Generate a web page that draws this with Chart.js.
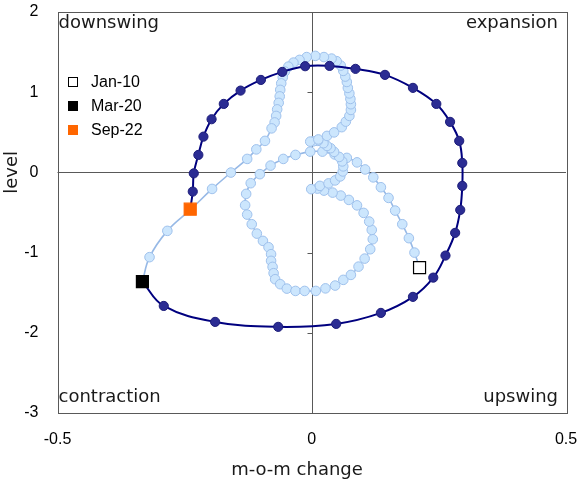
<!DOCTYPE html>
<html>
<head>
<meta charset="utf-8">
<script src="https://cdn.jsdelivr.net/npm/chart.js@4"></script>
<style>
  html, body { margin: 0; padding: 0; background: #fff; }
  #wrap { width: 581px; height: 486px; }
</style>
</head>
<body>
<div id="wrap"><canvas id="cycleChart" width="581" height="486"></canvas></div>
<script>
// Jan-10 .. Feb-20, monthly (x = m-o-m change, y = level)
const pastMom = [
  0.212, 0.202, 0.191, 0.178, 0.164, 0.151, 0.136, 0.121, 0.105, 0.089,
  0.069, 0.045, 0.021, -0.003, -0.032, -0.056, -0.081, -0.102, -0.120, -0.129,
  -0.131, -0.127, -0.118, -0.108, -0.096, -0.085, -0.080, -0.080, -0.077, -0.075,
  -0.072, -0.062, -0.049, -0.032, -0.014, 0.008, 0.027, 0.046, 0.062, 0.077,
  0.092, 0.104, 0.115, 0.120, 0.118, 0.113, 0.102, 0.089, 0.073, 0.057,
  0.041, 0.024, 0.011, -0.001, 0.016, 0.033, 0.046, 0.056, 0.061, 0.062,
  0.060, 0.054, 0.044, 0.037, 0.030, 0.023, 0.012, 0.003, -0.003, 0.013,
  0.030, 0.044, 0.059, 0.067, 0.074, 0.077, 0.077, 0.076, 0.074, 0.071,
  0.069, 0.066, 0.062, 0.057, 0.049, 0.039, 0.024, 0.007, -0.010, -0.024,
  -0.036, -0.046, -0.053, -0.057, -0.060, -0.062, -0.063, -0.065, -0.068, -0.070,
  -0.073, -0.079, -0.092, -0.109, -0.127, -0.159, -0.196, -0.239, -0.284, -0.319
];
const pastLevel = [
  -1.187, -1.000, -0.820, -0.646, -0.476, -0.318, -0.185, -0.062, 0.037, 0.125,
  0.181, 0.224, 0.259, 0.259, 0.218, 0.168, 0.085, -0.022, -0.135, -0.268,
  -0.409, -0.526, -0.646, -0.763, -0.854, -0.933, -1.020, -1.103, -1.178, -1.257,
  -1.332, -1.394, -1.449, -1.478, -1.478, -1.478, -1.446, -1.411, -1.340, -1.278,
  -1.175, -1.075, -0.958, -0.833, -0.717, -0.613, -0.505, -0.411, -0.343, -0.289,
  -0.252, -0.227, -0.202, -0.209, -0.168, -0.137, -0.100, -0.050, 0.012, 0.075,
  0.137, 0.193, 0.256, 0.302, 0.330, 0.364, 0.393, 0.387, 0.384, 0.411,
  0.455, 0.499, 0.564, 0.633, 0.704, 0.779, 0.850, 0.916, 0.985, 1.054,
  1.128, 1.195, 1.266, 1.332, 1.387, 1.419, 1.438, 1.453, 1.438, 1.403,
  1.369, 1.319, 1.257, 1.185, 1.110, 1.029, 0.948, 0.867, 0.786, 0.704,
  0.623, 0.549, 0.393, 0.287, 0.168, -0.002, -0.206, -0.468, -0.729, -1.057
];
// Mar-20 .. Sep-22
const recentMom = [
  -0.333, -0.291, -0.190, -0.066, 0.048, 0.136, 0.199, 0.239, 0.263, 0.282,
  0.292, 0.296, 0.296, 0.290, 0.272, 0.245, 0.199, 0.144, 0.086, 0.035,
  -0.013, -0.058, -0.100, -0.140, -0.173, -0.197, -0.213, -0.223, -0.232, -0.234,
  -0.239
];
const recentLevel = [
  -1.362, -1.665, -1.864, -1.926, -1.889, -1.752, -1.552, -1.312, -1.037, -0.754,
  -0.468, -0.168, 0.118, 0.393, 0.630, 0.854, 1.054, 1.216, 1.291, 1.328,
  1.324, 1.253, 1.153, 1.020, 0.854, 0.663, 0.446, 0.218, -0.012, -0.239,
  -0.459
];

const xTicks = [-0.5, 0, 0.5];
const yTicks = [2, 1, 0, -1, -2, -3];
const keyLabels = ['Jan-10', 'Mar-20', 'Sep-22'];
const keyFill = ['#ffffff', '#000000', '#ff6600'];
const keyLine = ['#000000', '#000000', '#ff6600'];
const quadrants = ['downswing', 'expansion', 'contraction', 'upswing'];

const toPoints = (xs, ys) => xs.map((v, i) => ({x: v, y: ys[i]}));

const pastPts = toPoints(pastMom, pastLevel);
const recentPts = toPoints(recentMom, recentLevel);
const keyPts = [pastPts[0], recentPts[0], recentPts[recentPts.length - 1]];

const gothic = '"DejaVu Sans", sans-serif';
const arial = '"Liberation Sans", Arial, sans-serif';

const cycleFrame = {
    id: 'cycleFrame',
    beforeDatasetsDraw(chart) {
        const {ctx, chartArea: a, scales: {x, y}} = chart;
        const r = v => Math.round(v) + 0.5;
        ctx.save();
        ctx.strokeStyle = '#595959';
        ctx.lineWidth = 1;
        ctx.strokeRect(r(a.left), r(a.top), Math.round(a.right - a.left), Math.round(a.bottom - a.top));
        const x0 = r(x.getPixelForValue(0));
        const y0 = r(y.getPixelForValue(0));
        ctx.beginPath();
        ctx.moveTo(x0, a.top); ctx.lineTo(x0, a.bottom);
        ctx.moveTo(a.left, y0); ctx.lineTo(a.right, y0);
        yTicks.forEach(v => {
            const py = r(y.getPixelForValue(v));
            ctx.moveTo(x0 - 5, py); ctx.lineTo(x0, py);
        });
        ctx.stroke();
        ctx.restore();
    },
    afterDraw(chart) {
        const {ctx, chartArea: a, scales: {x, y}} = chart;
        ctx.save();
        // quadrant names
        ctx.fillStyle = '#1a1a1a';
        ctx.font = '18px ' + gothic;
        ctx.textBaseline = 'middle';
        ctx.textAlign = 'left';
        ctx.fillText(quadrants[0], a.left + 1, a.top + 11);
        ctx.fillText(quadrants[2], a.left + 1, a.bottom - 16);
        ctx.textAlign = 'right';
        ctx.fillText(quadrants[1], a.right - 8, a.top + 11);
        ctx.fillText(quadrants[3], a.right - 8, a.bottom - 16);

        // axis titles
        ctx.textAlign = 'center';
        ctx.fillText('m-o-m change', 297, 470);
        ctx.save();
        ctx.translate(12, y.getPixelForValue(0));
        ctx.rotate(-Math.PI / 2);
        ctx.fillText('level', 0, 0);
        ctx.restore();

        // legend
        ctx.font = '16px ' + arial;
        ctx.textAlign = 'left';
        keyLabels.forEach((lab, i) => {
            const cy = 82 + i * 24;
            ctx.fillStyle = keyFill[i];
            ctx.strokeStyle = keyLine[i];
            ctx.lineWidth = 1;
            ctx.fillRect(68.5, cy - 4.5, 9, 9);
            ctx.strokeRect(68.5, cy - 4.5, 9, 9);
            ctx.fillStyle = '#000';
            ctx.fillText(lab, 91, cy + 1);
        });
        ctx.restore();
    }
};

const noOverflow = s => {
    s.paddingTop = 0; s.paddingBottom = 0;
    s.paddingLeft = 0; s.paddingRight = 0;
};

const cycleCtx = document.getElementById('cycleChart').getContext('2d');
const cycleChart = new Chart(cycleCtx, {
    type: 'scatter',
    data: {
        datasets: [{
            label: 'markers',
            data: keyPts,
            pointStyle: 'rect',
            pointRadius: 8.5,
            backgroundColor: keyFill,
            borderColor: keyLine,
            borderWidth: 1.2,
            showLine: false,
            order: 0
        }, {
            label: 'Mar-20 to Sep-22',
            data: recentPts,
            showLine: true,
            tension: 0.4,
            borderColor: '#00007f',
            borderWidth: 2,
            pointRadius: 4.6,
            pointBackgroundColor: '#2b2c93',
            pointBorderColor: '#1d1d7a',
            pointBorderWidth: 1,
            order: 1
        }, {
            label: 'Jan-10 to Mar-20',
            data: pastPts.concat([recentPts[0]]),
            showLine: true,
            tension: 0.4,
            borderColor: '#97b9e6',
            borderWidth: 1.6,
            pointRadius: 4.8,
            pointBackgroundColor: '#cce6fd',
            pointBorderColor: '#9fc1ec',
            pointBorderWidth: 1,
            order: 2
        }]
    },
    options: {
        responsive: false,
        animation: false,
        events: [],
        layout: { padding: { top: 12, right: 15, left: 0, bottom: 0 } },
        plugins: {
            legend: { display: false },
            tooltip: { enabled: false }
        },
        scales: {
            x: {
                type: 'linear',
                min: -0.5,
                max: 0.5,
                afterBuildTicks: s => { s.ticks = xTicks.map(v => ({value: v})); },
                afterFit: s => { s.height = 73; noOverflow(s); },
                grid: { display: false },
                border: { display: false },
                ticks: { padding: 9, color: '#000', font: { family: arial, size: 16 } }
            },
            y: {
                type: 'linear',
                min: -3,
                max: 2,
                afterBuildTicks: s => { s.ticks = yTicks.map(v => ({value: v})); },
                afterFit: s => { s.width = 57.5; noOverflow(s); },
                grid: { display: false },
                border: { display: false },
                ticks: { padding: 11, color: '#000', font: { family: arial, size: 16 } }
            }
        }
    },
    plugins: [cycleFrame]
});
</script>
</body>
</html>
